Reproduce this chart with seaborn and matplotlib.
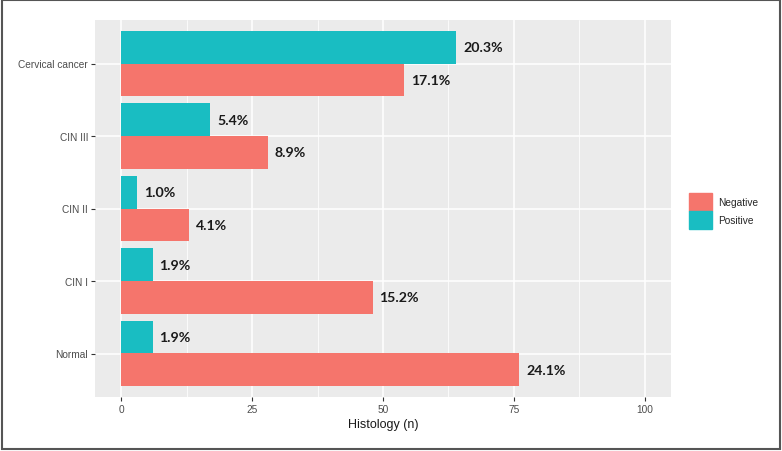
import pandas as pd
import matplotlib.pyplot as plt
import matplotlib.patches as mpatches
import seaborn as sns

# data
categories = ['Cervical cancer', 'CIN III', 'CIN II', 'CIN I', 'Normal']
negative_n = [54, 28, 13, 48, 76]
positive_n = [64, 17, 3, 6, 6]
negative_pct = ['17.1%', '8.9%', '4.1%', '15.2%', '24.1%']
positive_pct = ['20.3%', '5.4%', '1.0%', '1.9%', '1.9%']

col_neg = '#F5756C'
col_pos = '#19BDC2'

df = pd.DataFrame({
    'Histology': categories * 2,
    'n': negative_n + positive_n,
    'group': ['Negative'] * len(categories) + ['Positive'] * len(categories),
})

sns.set_theme(style='darkgrid', rc={'axes.facecolor': '#EBEBEB'})
plt.rcParams['font.family'] = ['Liberation Sans', 'DejaVu Sans']

fig = plt.figure(figsize=(7.82, 4.52), dpi=100)
ax = fig.add_axes([95 / 782, 1 - 398 / 452, (671 - 95) / 782, (398 - 21) / 452])

sns.barplot(data=df, y='Histology', x='n', hue='group', order=categories,
            hue_order=['Positive', 'Negative'], palette={'Negative': col_neg, 'Positive': col_pos},
            orient='h', width=0.9, saturation=1, linewidth=0, ax=ax)

# percentage labels
for cont, labs in zip(ax.containers, [positive_pct, negative_pct]):
    ax.bar_label(cont, labels=labs, padding=5, fontsize=10.2, fontweight='bold',
                 color='#1a1a1a', family=['Lato', 'DejaVu Sans'])

ax.set_xlim(-5, 105)
ax.set_ylim(4.6, -0.6)
ax.set_xticks([0, 25, 50, 75, 100])
ax.set_xticks([12.5, 37.5, 62.5, 87.5], minor=True)
ax.grid(which='major', color='white', linewidth=1.1)
ax.grid(which='minor', axis='x', color='white', linewidth=0.55)
ax.set_axisbelow(True)
for s in ax.spines.values():
    s.set_visible(False)

ax.tick_params(axis='both', which='major', length=3, width=0.8, color='#333333',
               labelsize=7.3, labelcolor='#4D4D4D', pad=2, left=True, bottom=True)
ax.tick_params(which='minor', length=0)
ax.set_ylabel('')
ax.set_xlabel('Histology (n)', fontsize=9, color='#1a1a1a', labelpad=3)

# legend: Negative first, like ggplot
ax.get_legend().remove()
handles = [mpatches.Patch(color=col_neg), mpatches.Patch(color=col_pos)]
fig.legend(handles, ['Negative', 'Positive'], loc='center left',
           bbox_to_anchor=(689 / 782, 1 - 212 / 452), frameon=False,
           fontsize=7.3, handlelength=2.3, handleheight=2.3, labelspacing=0.0,
           handletextpad=0.6, borderaxespad=0, borderpad=0)

# outer frame
fig.patches.append(mpatches.Rectangle((0.002, 0.004), 0.995, 0.993, transform=fig.transFigure,
                                      fill=False, edgecolor='#555555', linewidth=1.5))

fig.savefig('out.png', dpi=100, facecolor='white')
